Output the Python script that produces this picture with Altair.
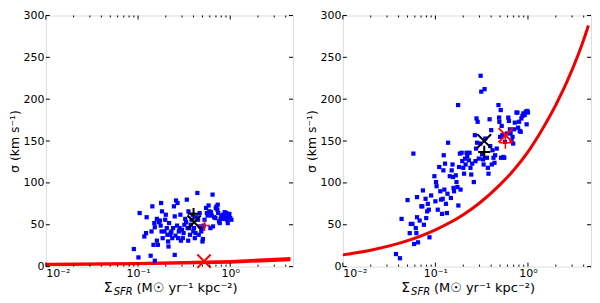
import altair as alt
import pandas as pd

FONT = "DejaVu Sans"

# ---------------- data ----------------
# left panel: blue points
left_sfr = [0.090, 0.101, 0.137, 0.152, 0.104, 0.124, 0.117, 0.122, 0.140, 0.143,
            0.147, 0.150, 0.152, 0.160, 0.160, 0.164, 0.168, 0.173, 0.176, 0.178,
            0.182, 0.180, 0.185, 0.194, 0.197, 0.200, 0.205, 0.208, 0.212, 0.214,
            0.217, 0.222, 0.226, 0.230, 0.235, 0.240, 0.245, 0.250, 0.255, 0.258,
            0.265, 0.268, 0.272, 0.277, 0.282, 0.288, 0.292, 0.300, 0.306, 0.312,
            0.318, 0.325, 0.332, 0.338, 0.345, 0.350, 0.352, 0.360, 0.366, 0.372,
            0.381, 0.390, 0.397, 0.405, 0.413, 0.420, 0.430, 0.440, 0.448, 0.455,
            0.466, 0.470, 0.485, 0.490, 0.500, 0.505, 0.515, 0.526, 0.547, 0.558,
            0.570, 0.582, 0.593, 0.610, 0.618, 0.630, 0.643, 0.650, 0.669, 0.690,
            0.697, 0.711, 0.725, 0.732, 0.740, 0.755, 0.770, 0.786, 0.800, 0.818,
            0.835, 0.851, 0.870, 0.887, 0.905, 0.923, 0.940, 0.961, 0.980, 1.000,
            1.030, 0.960, 0.250]
left_sigma = [21, 11, 13, 7, 64, 59, 36, 40, 42, 72,
              26, 52, 47, 57, 31, 26, 53, 55, 49, 76,
              66, 42, 34, 42, 56, 62, 46, 38, 30, 24,
              52, 38, 40, 42, 34, 46, 72, 60, 37, 79,
              49, 76, 34, 42, 46, 62, 31, 44, 34, 40,
              50, 57, 53, 80, 46, 31, 66, 46, 38, 50,
              56, 62, 42, 46, 34, 40, 59, 88, 56, 38,
              64, 48, 42, 45, 30, 33, 49, 56, 70, 64,
              61, 73, 66, 46, 65, 61, 86, 48, 59, 58,
              70, 72, 68, 74, 64, 54, 52, 57, 61, 59,
              62, 57, 65, 59, 64, 56, 52, 60, 63, 58,
              56, 62, 14]

# right panel: blue points
right_sfr = [0.0375, 0.0414, 0.0431, 0.050, 0.0528, 0.0542, 0.0565, 0.0578, 0.0588, 0.0613,
             0.0623, 0.0633, 0.0633, 0.0649, 0.0676, 0.0705, 0.0722, 0.0733, 0.0751, 0.0783,
             0.0796, 0.0815, 0.0828, 0.0849, 0.0863, 0.0899, 0.0975, 0.100, 0.1016, 0.103,
             0.106, 0.110, 0.113, 0.115, 0.118, 0.120, 0.122, 0.123, 0.125, 0.127,
             0.130, 0.133, 0.135, 0.137, 0.143, 0.147, 0.150, 0.153, 0.155, 0.157,
             0.159, 0.166, 0.169, 0.173, 0.176, 0.177, 0.180, 0.184, 0.187, 0.192,
             0.195, 0.200, 0.204, 0.209, 0.212, 0.217, 0.221, 0.230, 0.234, 0.239,
             0.244, 0.250, 0.260, 0.267, 0.271, 0.275, 0.278, 0.282, 0.286, 0.294,
             0.306, 0.308, 0.313, 0.319, 0.327, 0.332, 0.340, 0.346, 0.360, 0.369,
             0.375, 0.385, 0.391, 0.401, 0.407, 0.414, 0.424, 0.435, 0.442, 0.460,
             0.480, 0.488, 0.491, 0.500, 0.508, 0.512, 0.520, 0.528, 0.542, 0.555,
             0.565, 0.589, 0.613, 0.623, 0.638, 0.649, 0.665, 0.681, 0.692, 0.709,
             0.721, 0.751, 0.770, 0.783, 0.802, 0.815, 0.835, 0.849, 0.870, 0.892,
             0.922, 0.945, 0.968, 0.984, 1.000]
right_sigma = [15, 10, 57, 79.5, 40, 51, 51, 135, 27, 46,
               40, 83, 59, 29, 55, 72, 72, 91, 50, 81,
               58, 66, 75, 68, 35, 85, 108, 78, 101, 96,
               68, 119, 90, 80, 63, 81, 115, 133, 92, 123,
               75, 64, 87, 148, 108, 82, 115, 122, 107, 94,
               90, 109, 101, 95, 193, 73, 119, 135, 92, 136,
               126, 118, 111, 129, 122, 136, 132, 127, 136, 118,
               110, 123, 101, 157, 126, 141, 177, 148, 173, 129,
               147, 228, 209, 134, 128, 122, 212, 153, 130, 118,
               111, 176, 144, 163, 122, 139, 130, 124, 133, 141,
               193, 178, 173, 155, 187, 130, 168, 157, 131, 130,
               149, 159, 178, 174, 164, 159, 150, 155, 147, 164,
               172, 184, 184, 166, 173, 162, 161, 177, 180, 183,
               181, 185, 170, 186, 184]

# left panel: red band (lower / upper edge)
band_sfr = [0.01, 0.1, 1.0, 4.5]
band_lo = [0.3, 1.5, 3.5, 6.5]
band_hi = [4.5, 5.5, 8.0, 11.5]

# right panel: red curve
curve_sfr = [0.01, 0.02, 0.05, 0.1, 0.2, 0.3, 0.5, 0.7, 1.0, 1.5, 2.0, 3.0, 4.0, 4.5]
curve_sigma = [14, 19.6, 31, 44, 62, 76, 98, 115, 137, 168, 193, 235, 271, 288]

# summary markers: [black x, black +, red +, red x]
left_mk_sfr = [0.406, 0.400, 0.526, 0.520]
left_mk_sigma = [53, 63, 49, 6.5]
# right: [black x, black +, red x, red +]
right_mk_sfr = [0.337, 0.337, 0.574, 0.570]
right_mk_sigma = [150, 137, 157, 148]

x_label_vals = [0.01, 0.1, 1.0]
x_minor_vals = [0.02, 0.03, 0.04, 0.05, 0.06, 0.07, 0.08, 0.09,
                0.2, 0.3, 0.4, 0.5, 0.6, 0.7, 0.8, 0.9, 2, 3, 4]
y_tick_vals = [0, 50, 100, 150, 200, 250, 300]

X_DOMAIN = [0.01, 4.8]
Y_DOMAIN = [0, 300]

X_PATH = "M-1,-1L1,1M-1,1L1,-1"
PLUS_PATH = "M-1,0L1,0M0,-1L0,1"


def panel(sfr, sigma, extra_layers, mk_sfr, mk_sigma, mk_styles, w, h):
    xs = alt.Scale(type="log", domain=X_DOMAIN, nice=False)
    ys = alt.Scale(domain=Y_DOMAIN, nice=False)
    xax = alt.Axis(values=x_label_vals,
                   labelExpr="datum.value < 0.05 ? '10⁻²' : (datum.value < 0.5 ? '10⁻¹' : '10⁰')",
                   ticks=False, domain=False, grid=False, title=None,
                   labelFontSize=11, labelPadding=1, labelFont=FONT, labelColor="black")
    yax = alt.Axis(values=y_tick_vals, ticks=False, domain=False, grid=False,
                   title="σ (km s⁻¹)", titleFont=FONT, titleFontSize=12.5,
                   titleFontWeight="normal", titleColor="black", titlePadding=1,
                   labelFontSize=11, labelPadding=2, labelFont=FONT, labelColor="black")

    def X(field="sfr"):
        return alt.X(f"{field}:Q", scale=xs, axis=xax)

    def Y(field="sigma"):
        return alt.Y(f"{field}:Q", scale=ys, axis=yax)

    layers = []
    for kind, data in extra_layers:
        if kind == "band":
            df = pd.DataFrame({"sfr": data[0], "sigma": data[1], "hi": data[2]})
            layers.append(alt.Chart(df).mark_area(color="#ff0000", opacity=1, clip=True).encode(
                x=X(), y=Y(), y2="hi:Q"))
        else:
            df = pd.DataFrame({"sfr": data[0], "sigma": data[1]})
            layers.append(alt.Chart(df).mark_line(color="#ee0000", strokeWidth=3,
                                                   interpolate="monotone", clip=True).encode(
                x=X(), y=Y()))

    pts = pd.DataFrame({"sfr": sfr, "sigma": sigma})
    layers.append(alt.Chart(pts).mark_square(size=18, color="#0000ff", opacity=1).encode(
        x=X(), y=Y()))

    for i, (shape, color, size, sw) in enumerate(mk_styles):
        df = pd.DataFrame({"sfr": [mk_sfr[i]], "sigma": [mk_sigma[i]]})
        layers.append(alt.Chart(df).mark_point(shape=shape, filled=False, color=color,
                                               size=size, strokeWidth=sw, opacity=1).encode(
            x=X(), y=Y()))

    # inward tick marks (matplotlib style)
    yt = pd.DataFrame({"sigma": y_tick_vals})
    layers.append(alt.Chart(yt).mark_rule(color="black", strokeWidth=1).encode(
        y=Y(), x=alt.value(0), x2=alt.value(4)))
    layers.append(alt.Chart(yt).mark_rule(color="black", strokeWidth=1).encode(
        y=Y(), x=alt.value(w), x2=alt.value(w - 4)))
    xt = pd.DataFrame({"sfr": x_label_vals})
    xm = pd.DataFrame({"sfr": x_minor_vals})
    for df, ln in ((xt, 4), (xm, 2)):
        layers.append(alt.Chart(df).mark_rule(color="black", strokeWidth=1).encode(
            x=X(), y=alt.value(h), y2=alt.value(h - ln)))
        layers.append(alt.Chart(df).mark_rule(color="black", strokeWidth=1).encode(
            x=X(), y=alt.value(0), y2=alt.value(ln)))

    # x-axis title: Σ_SFR (M☉ yr⁻¹ kpc⁻²), centred under the plot
    ty = h + 21
    x0 = w / 2 - 66
    for txt, xpos, dy, fs, style in (("Σ", x0, 0, 14, "normal"),
                                     ("SFR", x0 + 10, 4, 10, "italic"),
                                     ("(M☉ yr⁻¹ kpc⁻²)", x0 + 33, 0, 13, "normal")):
        layers.append(alt.Chart(pd.DataFrame({"t": [txt]})).mark_text(
            align="left", baseline="middle", font=FONT, fontSize=fs, fontStyle=style,
            color="black", dy=dy).encode(text="t:N", x=alt.value(xpos), y=alt.value(ty)))

    return alt.layer(*layers).properties(width=w, height=h)


H = 252
left = panel(left_sfr, left_sigma,
             [("band", (band_sfr, band_lo, band_hi))],
             left_mk_sfr, left_mk_sigma,
             [(X_PATH, "black", 180, 2), (PLUS_PATH, "black", 140, 2),
              (PLUS_PATH, "#ff0000", 120, 1.5), (X_PATH, "#ff0000", 180, 2)],
             248, H)
right = panel(right_sfr, right_sigma,
              [("curve", (curve_sfr, curve_sigma))],
              right_mk_sfr, right_mk_sigma,
              [(X_PATH, "black", 190, 2), (PLUS_PATH, "black", 150, 2),
               (X_PATH, "#ff0000", 200, 2), (PLUS_PATH, "#ff0000", 150, 1.5)],
              249, H)

chart = alt.hconcat(left, right, spacing=50, bounds="flush").properties(
    padding={"left": 0, "top": 0, "right": 0, "bottom": 0}
).configure_view(stroke="#222222", strokeWidth=1).configure(font=FONT)

chart.save("out.html", embed_options={"renderer": "svg", "actions": False})
